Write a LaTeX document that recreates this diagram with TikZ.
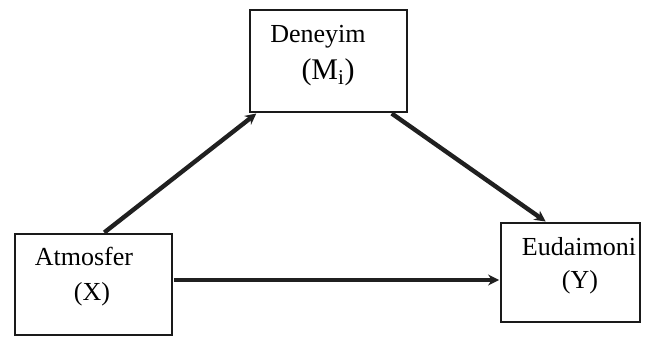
\documentclass[tikz,border=0pt]{standalone}
\usepackage{fontspec}
\setmainfont{Liberation Serif}
\usetikzlibrary{arrows.meta}
\definecolor{boxStroke}{HTML}{1A1A1A}
\definecolor{pathStroke}{HTML}{202020}

\begin{document}
\begin{tikzpicture}[
  x=1pt,y=-1pt,
  font=\fontsize{26}{30}\selectfont,
  box/.style={rectangle,draw=boxStroke,line width=1.8pt,fill=white,inner sep=0pt},
  word/.style={anchor=base,inner sep=0pt},
  edge/.style={-{Stealth[length=11pt,width=11pt]},line width=4.4pt,draw=pathStroke,shorten >=1pt,shorten <=1pt}
]
\useasboundingbox (0,0) rectangle (656,338);
% Boxes of the mediation model, placed at their pixel centres.
\node[box,minimum width=157pt,minimum height=102pt] (den) at (328.5,61) {};
\node[box,minimum width=157pt,minimum height=101pt] (atm) at (93.5,284.5) {};
\node[box,minimum width=139pt,minimum height=99pt] (eud) at (570.5,272.5) {};

\node[word] (denname) at (318,42) {Deneyim};
\node[word,font=\fontsize{30}{34}\selectfont] (densym) at (328,79) {(M\textsubscript{i})};
\node[word] (atmname) at (84,265) {Atmosfer};
\node[word] (atmsym) at (92,300) {(X)};
\node[word] (eudname) at (579,255) {Eudaimoni};
\node[word] (eudsym) at (580,288) {(Y)};

\draw[edge] ([xshift=10pt]atm.north) -- ([xshift=8pt]den.south west);
\draw[edge] ([xshift=-17pt]den.south east) -- ([xshift=-24pt]eud.north);
\draw[edge] ([yshift=4.5pt]atm.east) -- ([yshift=-7.5pt]eud.west);
\end{tikzpicture}
\end{document}
